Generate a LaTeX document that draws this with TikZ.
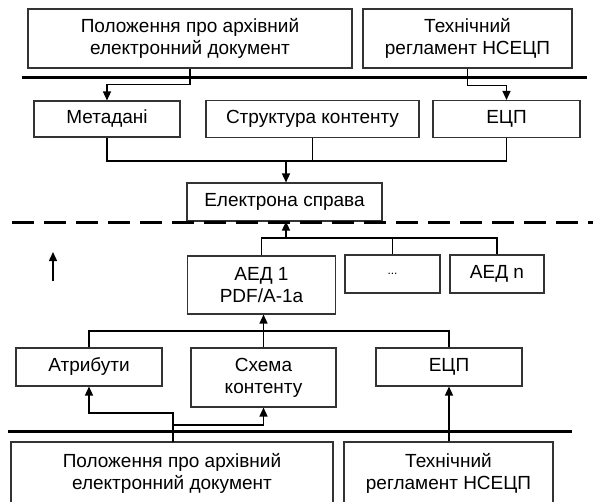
\documentclass[tikz,border=0pt]{standalone}
\usepackage{fontspec}
\setmainfont{Liberation Sans}
\usepackage{tikz}
\usetikzlibrary{arrows.meta, positioning, calc}

\begin{document}
\begin{tikzpicture}[
  x=1pt, y=-1pt,
  box/.style={rectangle, draw=black!80, line width=1.1pt, fill=white,
              inner sep=0pt, align=center,
              font=\fontsize{19}{22}\selectfont},
  arr/.style={-{Triangle[length=9pt, width=8pt]}, line width=1.4pt},
  link/.style={line width=1.4pt},
  bar/.style={line width=3pt},
  dbar/.style={line width=3pt, dash pattern=on 22pt off 10pt},
]
\useasboundingbox (0,0) rectangle (593,502);

%% Upper sources
\node[box, minimum width=324pt, minimum height=59pt] (topA) at (190,38.5)
      {Положення про архівний\\ електронний документ};
\node[box, minimum width=209pt, minimum height=59pt] (topB) at (467.5,38.5)
      {Технічний\\ регламент НСЕЦП};
\draw[bar] (22,78) -- (587,78);

%% Components of the case
\node[box, minimum width=146pt, minimum height=36pt] (meta)   at (107,119)   {Метадані};
\node[box, minimum width=213pt, minimum height=37pt] (struct) at (312.5,119) {Структура контенту};
\node[box, minimum width=147pt, minimum height=37pt] (ecpA)   at (506.5,119) {ЕЦП};

%% Electronic case
\node[box, minimum width=195pt, minimum height=38pt] (case) at (284.5,202) {Електрона справа};
\draw[dbar] (12,223) -- (593,223);

%% Archival documents
\node[box, minimum width=148pt, minimum height=58pt] (aed1) at (261.5,285) {АЕД 1\\ PDF/A-1a};
\node[box, minimum width=95pt,  minimum height=38pt] (dots) at (392.5,274) {\fontsize{12}{14}\selectfont ...};
\node[box, minimum width=94pt,  minimum height=38pt] (aedn) at (497,274)   {АЕД n};

%% Components of the document
\node[box, minimum width=146pt, minimum height=38pt] (attr)   at (89,367)    {Атрибути};
\node[box, minimum width=145pt, minimum height=59pt] (schema) at (263.5,377.5) {Схема\\ контенту};
\node[box, minimum width=146pt, minimum height=38pt] (ecpB)   at (449,367)   {ЕЦП};
\draw[bar] (8,431) -- (572,431);

%% Lower sources
\node[box, minimum width=322pt, minimum height=62pt] (botA) at (172,473)
      {Положення про архівний\\ електронний документ};
\node[box, minimum width=209pt, minimum height=62pt] (botB) at (448.5,473)
      {Технічний\\ регламент НСЕЦП};

%% Junction points
\coordinate (j1) at (286,161);
\coordinate (j2) at (286,238);
\coordinate (j3) at (263,331);
\coordinate (fA) at (173,442);
\coordinate (up1) at (53,281);
\coordinate (up2) at (53,252);

%% Edges: upper sources -> components
\draw[arr] (topA.south) |- ++(0,16) -| (meta.north);
\draw[arr] (topB.south) |- ++(0,17) -| (ecpA.north);

%% Edges: components -> case
\draw[link] (meta.south) |- (j1) -| (ecpA.south);
\draw[link] (struct.south) -- (struct.south |- j1);
\draw[arr] (j1) -- (j1 |- case.north);

%% Edges: documents -> case
\draw[link] (aed1.north) |- (j2) -| (aedn.north);
\draw[link] (dots.north) -- (dots.north |- j2);
\draw[arr] (j2) -- (j2 |- case.south);
\draw[arr] (up1) -- (up2);

%% Edges: components -> document
\draw[link] (attr.north) |- (j3) -| (ecpB.north);
\draw[arr] (schema.north) -- (schema.north |- aed1.south);

%% Edges: lower sources -> components
\draw[arr] (fA) |- ++(0,-29) -| (attr.south);
\draw[arr] (fA) |- ++(0,-17) -| (schema.south);
\draw[arr] (ecpB.south |- botB.north) -- (ecpB.south);

\end{tikzpicture}
\end{document}
